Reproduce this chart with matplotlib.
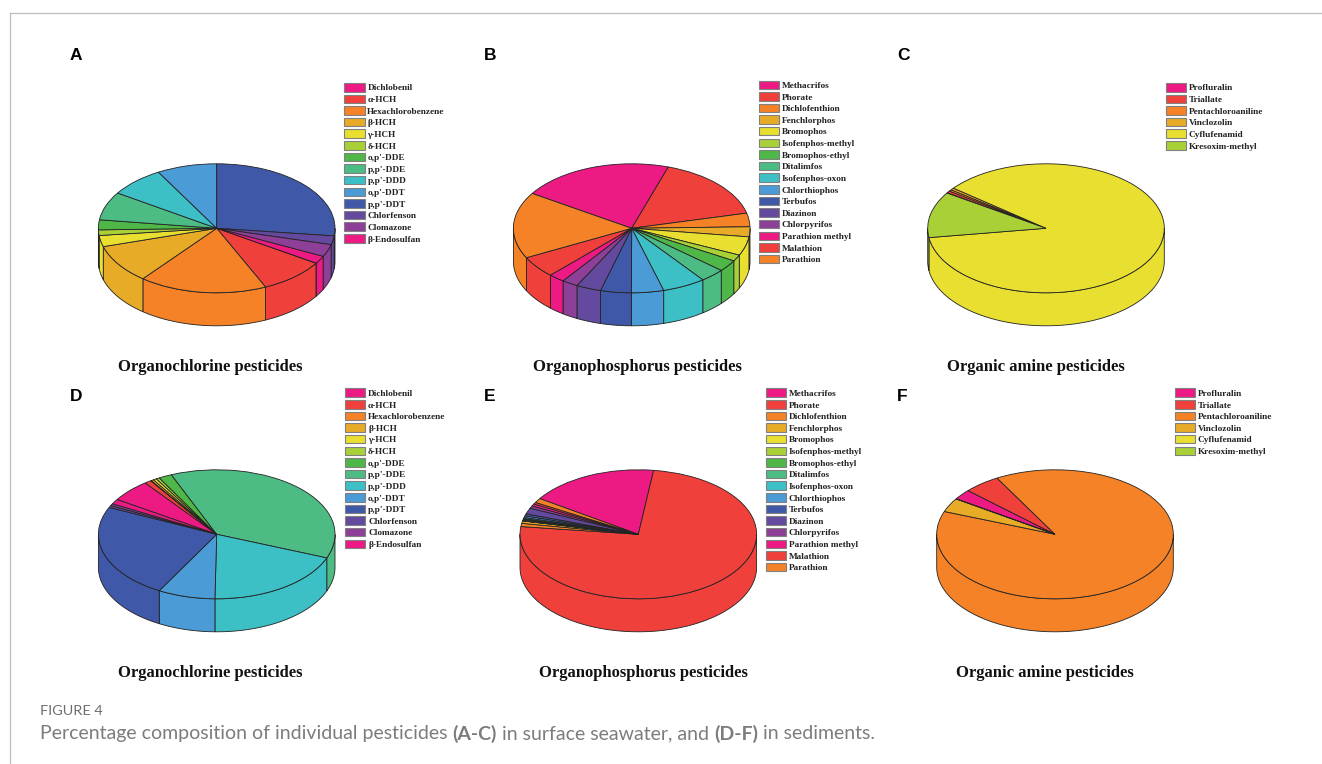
import numpy as np
import matplotlib
matplotlib.use("Agg")
import matplotlib.pyplot as plt
from matplotlib.lines import Line2D
from matplotlib.patches import Patch

W, H = 1322, 764

chlorine_names = ["Dichlobenil", "α-HCH", "Hexachlorobenzene", "β-HCH", "γ-HCH", "δ-HCH",
                  "o,p'-DDE", "p,p'-DDE", "p,p'-DDD", "o,p'-DDT", "p,p'-DDT",
                  "Chlorfenson", "Clomazone", "β-Endosulfan"]
phosphorus_names = ["Methacrifos", "Phorate", "Dichlofenthion", "Fenchlorphos", "Bromophos",
                    "Isofenphos-methyl", "Bromophos-ethyl", "Ditalimfos", "Isofenphos-oxon",
                    "Chlorthiophos", "Terbufos", "Diazinon", "Chlorpyrifos",
                    "Parathion methyl", "Malathion", "Parathion"]
amine_names = ["Profluralin", "Triallate", "Pentachloroaniline", "Vinclozolin",
               "Cyflufenamid", "Kresoxim-methyl"]

# percentages
values_a = [0.05, 9.1, 17.5, 9.7, 2.8, 1.4, 2.5, 7.1, 7.6, 8.2, 26.9, 2.2, 3.1, 1.9]
values_b = [20.9, 16.2, 3.4, 2.5, 4.7, 1.6, 2.9, 3.4, 5.9, 4.4, 4.2, 3.4, 2.2, 2.2, 5.4, 16.6]
values_c = [0.1, 0.5, 0.4, 0.5, 87.0, 11.5]
values_d = [5.6, 0.9, 0.1, 0.35, 0.45, 0.45, 1.8, 37.1, 19.2, 7.8, 23.7, 0.5, 0.5, 1.2]
values_e = [17.7, 74.7, 0.8, 0.6, 0.05, 0.2, 0.25, 0.1, 0.3, 0.4, 0.5, 1.5, 0.6, 0.55, 0.45, 1.1]
values_f = [2.6, 5.0, 88.9, 3.5, 0.0, 0.0]

palette = ["#ED1A84", "#F0403C", "#F58227", "#E8AB27", "#E9DF31", "#A9D037", "#4EB748",
           "#4DBB84", "#3CC0C6", "#4A9BD6", "#4058A8", "#644A9E", "#8E3F98"]

ORGANOCHLORINE = "Organochlorine pesticides"
ORGANOPHOSPHORUS = "Organophosphorus pesticides"
AMINE = "Organic amine pesticides"

RX, RY, DEPTH = 118.3, 64.5, 33.0
PAD = 1.04
EDGE = "#222222"


def fx(px):
    return px / W


def fy(py):
    return 1 - py / H


def side_wall(ax, t1, t2, depth, color):
    # only the front half of the cylinder can be seen
    for shift in (-720, -360, 0, 360, 720):
        a = max(t1 + shift, 180)
        b = min(t2 + shift, 360)
        if b <= a:
            continue
        th = np.radians(np.linspace(a, b, 80))
        xs = np.r_[np.cos(th), np.cos(th[::-1])]
        ys = np.r_[np.sin(th), np.sin(th[::-1]) - depth]
        ax.fill(xs, ys, fc=color, ec=EDGE, lw=0.6, zorder=1)


def pie_panel(fig, values, names, start, cx, cy, letter, letter_xy, title, title_xy, legend_xy):
    depth = DEPTH / RY
    left = cx - PAD * RX
    right = cx + PAD * RX
    top = cy - PAD * RY
    bottom = cy + (depth + PAD) * RY
    ax = fig.add_axes([fx(left), fy(bottom), fx(right - left), (bottom - top) / H])

    colors = [palette[i % len(palette)] for i in range(len(values))]
    wedges, _ = ax.pie(values, colors=colors, startangle=start, counterclock=False,
                       normalize=True, radius=1,
                       wedgeprops=dict(ec=EDGE, lw=0.6, zorder=3))
    for w in wedges:
        side_wall(ax, w.theta1, w.theta2, depth, w.get_facecolor())
    ax.set_aspect("auto")
    ax.set_xlim(-PAD, PAD)
    ax.set_ylim(-PAD - depth, PAD)
    ax.axis("off")

    handles = [Patch(fc=c, ec="#808080", lw=0.8) for c in colors]
    ax.legend(handles, names, loc="upper left",
              bbox_to_anchor=(fx(legend_xy[0]), fy(legend_xy[1])),
              bbox_transform=fig.transFigure, frameon=False, borderpad=0, borderaxespad=0,
              handlelength=2.2, handleheight=1.03, labelspacing=0.235, handletextpad=0.28,
              prop=dict(family="Liberation Serif", weight="bold", size=6.7),
              labelcolor="#222222")

    fig.text(fx(letter_xy[0]), fy(letter_xy[1]), letter, family="Liberation Sans",
             weight="bold", size=12.5, ha="left", va="center", color="black")
    fig.text(fx(title_xy[0]), fy(title_xy[1]), title, family="Liberation Serif",
             weight="bold", size=11.95, ha="center", va="center", color="#111111")


fig = plt.figure(figsize=(W / 100, H / 100), dpi=100)

pie_panel(fig, values_a, chlorine_names, -32.7, 216.7, 228.3, "A", (70, 56),
          ORGANOCHLORINE, (210.5, 367.4), (344.3, 83))
pie_panel(fig, values_b, phosphorus_names, 147.3, 631.7, 228.3, "B", (484, 56),
          ORGANOPHOSPHORUS, (637.5, 367.4), (758.7, 80.5))
pie_panel(fig, values_c, amine_names, 146.9, 1046.0, 228.3, "C", (897, 56),
          AMINE, (1035.8, 367.4), (1165.7, 83))
pie_panel(fig, values_d, chlorine_names, 147.4, 216.7, 534.3, "D", (70, 396),
          ORGANOCHLORINE, (210.4, 673), (345, 388.5))
pie_panel(fig, values_e, phosphorus_names, 146.4, 638.3, 534.3, "E", (484, 396),
          ORGANOPHOSPHORUS, (643.8, 673), (765.7, 388.5))
pie_panel(fig, values_f, amine_names, 146.7, 1055.0, 534.3, "F", (897, 396),
          AMINE, (1045, 673), (1174.7, 388.5))

# page frame of the article
fig.add_artist(Line2D([fx(9.5), fx(W)], [fy(12.5), fy(12.5)], color="#bdbdbd", lw=0.9))
fig.add_artist(Line2D([fx(9.5), fx(9.5)], [fy(12.5), fy(H)], color="#bdbdbd", lw=0.9))

fig.text(fx(40), fy(710.7), "FIGURE 4", family="Lato", size=10.4, color="#6e6e6e",
         ha="left", va="center")

caption = [("Percentage composition of individual pesticides ", "normal"), ("(A-C)", "bold"),
           (" in surface seawater, and ", "normal"), ("(D-F)", "bold"), (" in sediments.", "normal")]
x = 40
renderer = fig.canvas.get_renderer()
for part, weight in caption:
    t = fig.text(fx(x), fy(733.5), part, family="Lato", size=14.0, weight=weight,
                 color="#7c7c7c", ha="left", va="center")
    x = t.get_window_extent(renderer).x1

fig.savefig("out.png", dpi=100)
